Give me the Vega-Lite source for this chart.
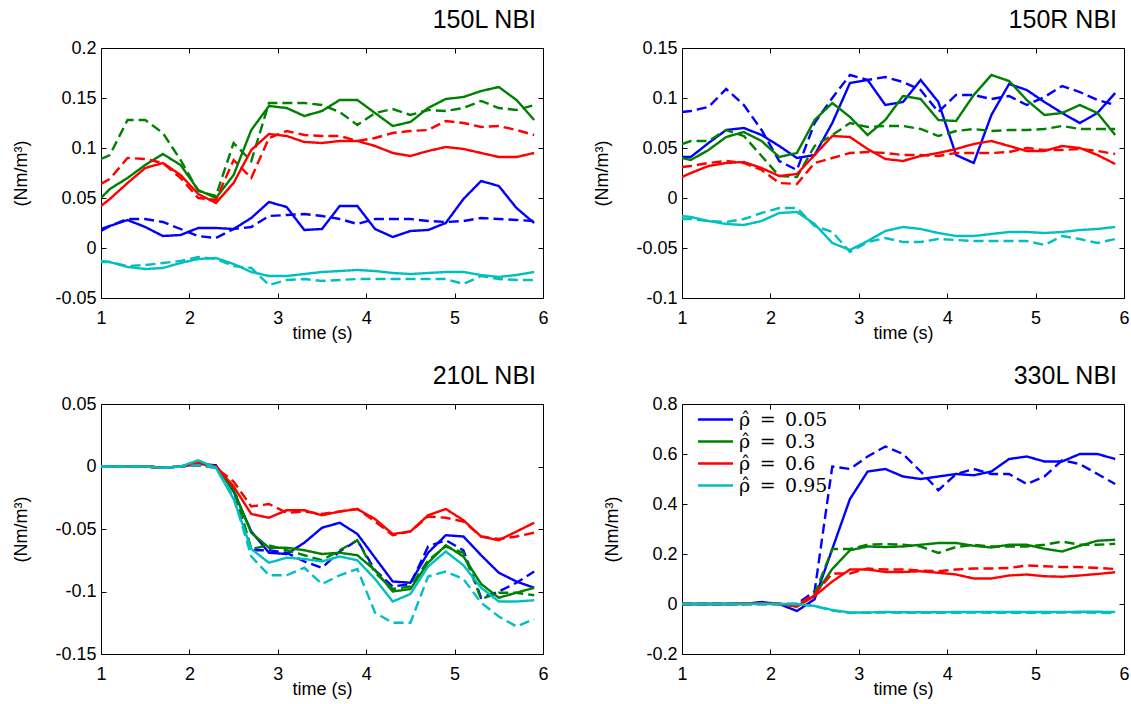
{
  "$schema": "https://vega.github.io/schema/vega-lite/v6.json",
  "background": "white",
  "padding": {"left": 12, "top": 7, "right": 0, "bottom": 0},
  "config": {
    "view": {"stroke": "black", "strokeWidth": 1},
    "font": "Liberation Sans",
    "axis": {"labelFont": "Liberation Sans", "labelFontSize": 18, "labelColor": "black", "titleFont": "Liberation Sans", "titleFontSize": 18, "titleFontWeight": "normal", "titleColor": "black", "domain": false, "grid": false, "tickColor": "black", "tickSize": -5, "labelPadding": 10, "labelFlush": false, "labelOverlap": false},
    "axisX": {"labelPadding": 16, "titlePadding": -3},
    "axisY": {"titlePadding": 24},
    "title": {"font": "Liberation Sans", "fontSize": 25, "fontWeight": "normal", "color": "black", "anchor": "end", "frame": "group", "offset": 6, "dx": -7}
  },
  "data": {"values": [
    {"p": "150L NBI", "r": "0.05", "k": "solid", "t": [1,1.1,1.3,1.5,1.7,1.9,2.1,2.3,2.5,2.7,2.9,3.1,3.3,3.5,3.7,3.9,4.1,4.3,4.5,4.7,4.9,5.1,5.3,5.5,5.7,5.9], "v": [0.017,0.022,0.028,0.021,0.012,0.013,0.020,0.020,0.019,0.030,0.046,0.041,0.018,0.019,0.042,0.042,0.019,0.011,0.017,0.018,0.025,0.049,0.067,0.062,0.040,0.025]},
    {"p": "150L NBI", "r": "0.05", "k": "dashed", "t": [1,1.1,1.3,1.5,1.7,1.9,2.1,2.3,2.5,2.7,2.9,3.1,3.3,3.5,3.7,3.9,4.1,4.3,4.5,4.7,4.9,5.1,5.3,5.5,5.7,5.9], "v": [0.019,0.022,0.029,0.029,0.026,0.019,0.012,0.010,0.019,0.021,0.032,0.033,0.034,0.032,0.029,0.024,0.029,0.029,0.029,0.027,0.026,0.027,0.030,0.029,0.028,0.027]},
    {"p": "150L NBI", "r": "0.3", "k": "solid", "t": [1,1.1,1.3,1.5,1.7,1.9,2.1,2.3,2.5,2.7,2.9,3.1,3.3,3.5,3.7,3.9,4.1,4.3,4.5,4.7,4.9,5.1,5.3,5.5,5.7,5.9], "v": [0.050,0.059,0.070,0.083,0.094,0.083,0.058,0.050,0.073,0.118,0.142,0.140,0.132,0.137,0.148,0.148,0.135,0.122,0.126,0.140,0.149,0.151,0.157,0.161,0.148,0.128]},
    {"p": "150L NBI", "r": "0.3", "k": "dashed", "t": [1,1.1,1.3,1.5,1.7,1.9,2.1,2.3,2.5,2.7,2.9,3.1,3.3,3.5,3.7,3.9,4.1,4.3,4.5,4.7,4.9,5.1,5.3,5.5,5.7,5.9], "v": [0.089,0.093,0.128,0.128,0.115,0.088,0.057,0.052,0.105,0.087,0.145,0.145,0.145,0.143,0.136,0.123,0.135,0.139,0.133,0.138,0.137,0.140,0.147,0.140,0.138,0.143]},
    {"p": "150L NBI", "r": "0.6", "k": "solid", "t": [1,1.1,1.3,1.5,1.7,1.9,2.1,2.3,2.5,2.7,2.9,3.1,3.3,3.5,3.7,3.9,4.1,4.3,4.5,4.7,4.9,5.1,5.3,5.5,5.7,5.9], "v": [0.042,0.049,0.065,0.080,0.085,0.073,0.054,0.045,0.065,0.098,0.114,0.112,0.106,0.105,0.107,0.107,0.102,0.095,0.092,0.097,0.101,0.099,0.095,0.091,0.091,0.095]},
    {"p": "150L NBI", "r": "0.6", "k": "dashed", "t": [1,1.1,1.3,1.5,1.7,1.9,2.1,2.3,2.5,2.7,2.9,3.1,3.3,3.5,3.7,3.9,4.1,4.3,4.5,4.7,4.9,5.1,5.3,5.5,5.7,5.9], "v": [0.064,0.069,0.090,0.089,0.085,0.070,0.050,0.048,0.088,0.070,0.110,0.117,0.113,0.112,0.112,0.107,0.110,0.115,0.117,0.118,0.127,0.125,0.121,0.122,0.118,0.113]},
    {"p": "150L NBI", "r": "0.95", "k": "solid", "t": [1,1.1,1.3,1.5,1.7,1.9,2.1,2.3,2.5,2.7,2.9,3.1,3.3,3.5,3.7,3.9,4.1,4.3,4.5,4.7,4.9,5.1,5.3,5.5,5.7,5.9], "v": [-0.013,-0.014,-0.019,-0.021,-0.020,-0.015,-0.011,-0.010,-0.016,-0.024,-0.028,-0.028,-0.026,-0.024,-0.023,-0.022,-0.023,-0.025,-0.026,-0.025,-0.024,-0.024,-0.027,-0.029,-0.027,-0.024]},
    {"p": "150L NBI", "r": "0.95", "k": "dashed", "t": [1,1.1,1.3,1.5,1.7,1.9,2.1,2.3,2.5,2.7,2.9,3.1,3.3,3.5,3.7,3.9,4.1,4.3,4.5,4.7,4.9,5.1,5.3,5.5,5.7,5.9], "v": [-0.014,-0.014,-0.018,-0.017,-0.015,-0.013,-0.009,-0.011,-0.018,-0.020,-0.037,-0.032,-0.031,-0.033,-0.032,-0.031,-0.031,-0.031,-0.031,-0.031,-0.031,-0.036,-0.028,-0.031,-0.032,-0.032]},

    {"p": "150R NBI", "r": "0.05", "k": "solid", "t": [1,1.1,1.3,1.5,1.7,1.9,2.1,2.3,2.5,2.7,2.9,3.1,3.3,3.5,3.7,3.9,4.1,4.3,4.5,4.7,4.9,5.1,5.3,5.5,5.7,5.9], "v": [0.041,0.041,0.055,0.068,0.070,0.063,0.052,0.040,0.043,0.075,0.115,0.118,0.093,0.096,0.118,0.096,0.043,0.035,0.083,0.114,0.108,0.096,0.085,0.075,0.085,0.105]},
    {"p": "150R NBI", "r": "0.05", "k": "dashed", "t": [1,1.1,1.3,1.5,1.7,1.9,2.1,2.3,2.5,2.7,2.9,3.1,3.3,3.5,3.7,3.9,4.1,4.3,4.5,4.7,4.9,5.1,5.3,5.5,5.7,5.9], "v": [0.086,0.087,0.091,0.109,0.093,0.068,0.037,0.028,0.075,0.100,0.123,0.118,0.121,0.116,0.108,0.086,0.103,0.103,0.099,0.102,0.093,0.101,0.112,0.106,0.098,0.093]},
    {"p": "150R NBI", "r": "0.3", "k": "solid", "t": [1,1.1,1.3,1.5,1.7,1.9,2.1,2.3,2.5,2.7,2.9,3.1,3.3,3.5,3.7,3.9,4.1,4.3,4.5,4.7,4.9,5.1,5.3,5.5,5.7,5.9], "v": [0.040,0.038,0.048,0.061,0.066,0.057,0.041,0.045,0.078,0.095,0.081,0.063,0.078,0.102,0.099,0.078,0.077,0.103,0.123,0.117,0.098,0.083,0.085,0.093,0.085,0.063]},
    {"p": "150R NBI", "r": "0.3", "k": "dashed", "t": [1,1.1,1.3,1.5,1.7,1.9,2.1,2.3,2.5,2.7,2.9,3.1,3.3,3.5,3.7,3.9,4.1,4.3,4.5,4.7,4.9,5.1,5.3,5.5,5.7,5.9], "v": [0.054,0.057,0.057,0.068,0.062,0.042,0.022,0.021,0.052,0.063,0.075,0.071,0.072,0.072,0.069,0.062,0.067,0.069,0.067,0.068,0.068,0.069,0.072,0.069,0.069,0.069]},
    {"p": "150R NBI", "r": "0.6", "k": "solid", "t": [1,1.1,1.3,1.5,1.7,1.9,2.1,2.3,2.5,2.7,2.9,3.1,3.3,3.5,3.7,3.9,4.1,4.3,4.5,4.7,4.9,5.1,5.3,5.5,5.7,5.9], "v": [0.021,0.025,0.032,0.035,0.036,0.030,0.022,0.024,0.043,0.062,0.061,0.049,0.039,0.037,0.042,0.045,0.049,0.054,0.057,0.052,0.047,0.047,0.052,0.050,0.043,0.034]},
    {"p": "150R NBI", "r": "0.6", "k": "dashed", "t": [1,1.1,1.3,1.5,1.7,1.9,2.1,2.3,2.5,2.7,2.9,3.1,3.3,3.5,3.7,3.9,4.1,4.3,4.5,4.7,4.9,5.1,5.3,5.5,5.7,5.9], "v": [0.031,0.032,0.035,0.037,0.035,0.028,0.015,0.014,0.035,0.040,0.045,0.046,0.045,0.043,0.043,0.042,0.045,0.045,0.045,0.046,0.050,0.048,0.048,0.049,0.047,0.044]},
    {"p": "150R NBI", "r": "0.95", "k": "solid", "t": [1,1.1,1.3,1.5,1.7,1.9,2.1,2.3,2.5,2.7,2.9,3.1,3.3,3.5,3.7,3.9,4.1,4.3,4.5,4.7,4.9,5.1,5.3,5.5,5.7,5.9], "v": [-0.018,-0.019,-0.023,-0.026,-0.027,-0.023,-0.015,-0.014,-0.026,-0.045,-0.052,-0.043,-0.033,-0.029,-0.031,-0.035,-0.038,-0.038,-0.036,-0.034,-0.034,-0.035,-0.034,-0.032,-0.031,-0.029]},
    {"p": "150R NBI", "r": "0.95", "k": "dashed", "t": [1,1.1,1.3,1.5,1.7,1.9,2.1,2.3,2.5,2.7,2.9,3.1,3.3,3.5,3.7,3.9,4.1,4.3,4.5,4.7,4.9,5.1,5.3,5.5,5.7,5.9], "v": [-0.021,-0.021,-0.023,-0.024,-0.021,-0.015,-0.010,-0.010,-0.028,-0.034,-0.054,-0.044,-0.040,-0.044,-0.044,-0.041,-0.042,-0.043,-0.043,-0.043,-0.043,-0.047,-0.038,-0.041,-0.045,-0.041]},

    {"p": "210L NBI", "r": "0.05", "k": "solid", "t": [1,1.1,1.3,1.5,1.7,1.9,2.1,2.3,2.5,2.7,2.9,3.1,3.3,3.5,3.7,3.9,4.1,4.3,4.5,4.7,4.9,5.1,5.3,5.5,5.7,5.9], "v": [0,0,0,0,-0.001,0,0.002,0.001,-0.020,-0.052,-0.069,-0.070,-0.061,-0.049,-0.045,-0.054,-0.073,-0.092,-0.093,-0.069,-0.055,-0.056,-0.071,-0.085,-0.092,-0.097]},
    {"p": "210L NBI", "r": "0.05", "k": "dashed", "t": [1,1.1,1.3,1.5,1.7,1.9,2.1,2.3,2.5,2.7,2.9,3.1,3.3,3.5,3.7,3.9,4.1,4.3,4.5,4.7,4.9,5.1,5.3,5.5,5.7,5.9], "v": [0,0,0,0,-0.001,0,0.001,0,-0.018,-0.067,-0.067,-0.069,-0.076,-0.081,-0.068,-0.059,-0.083,-0.096,-0.094,-0.064,-0.059,-0.067,-0.105,-0.100,-0.093,-0.084]},
    {"p": "210L NBI", "r": "0.3", "k": "solid", "t": [1,1.1,1.3,1.5,1.7,1.9,2.1,2.3,2.5,2.7,2.9,3.1,3.3,3.5,3.7,3.9,4.1,4.3,4.5,4.7,4.9,5.1,5.3,5.5,5.7,5.9], "v": [0,0,0,0,-0.001,0,0.003,0,-0.019,-0.053,-0.065,-0.065,-0.067,-0.070,-0.069,-0.071,-0.083,-0.100,-0.098,-0.077,-0.063,-0.072,-0.094,-0.105,-0.101,-0.097]},
    {"p": "210L NBI", "r": "0.3", "k": "dashed", "t": [1,1.1,1.3,1.5,1.7,1.9,2.1,2.3,2.5,2.7,2.9,3.1,3.3,3.5,3.7,3.9,4.1,4.3,4.5,4.7,4.9,5.1,5.3,5.5,5.7,5.9], "v": [0,0,0,0,-0.001,0,0.001,0,-0.016,-0.066,-0.063,-0.067,-0.071,-0.075,-0.067,-0.059,-0.085,-0.098,-0.096,-0.075,-0.064,-0.069,-0.106,-0.101,-0.101,-0.103]},
    {"p": "210L NBI", "r": "0.6", "k": "solid", "t": [1,1.1,1.3,1.5,1.7,1.9,2.1,2.3,2.5,2.7,2.9,3.1,3.3,3.5,3.7,3.9,4.1,4.3,4.5,4.7,4.9,5.1,5.3,5.5,5.7,5.9], "v": [0,0,0,0,-0.001,0,0.003,0,-0.016,-0.038,-0.041,-0.035,-0.035,-0.039,-0.036,-0.034,-0.042,-0.054,-0.052,-0.039,-0.034,-0.043,-0.056,-0.059,-0.052,-0.045]},
    {"p": "210L NBI", "r": "0.6", "k": "dashed", "t": [1,1.1,1.3,1.5,1.7,1.9,2.1,2.3,2.5,2.7,2.9,3.1,3.3,3.5,3.7,3.9,4.1,4.3,4.5,4.7,4.9,5.1,5.3,5.5,5.7,5.9], "v": [0,0,0,0,-0.001,0,0.001,-0.001,-0.012,-0.032,-0.030,-0.037,-0.036,-0.038,-0.036,-0.034,-0.044,-0.055,-0.052,-0.040,-0.041,-0.044,-0.056,-0.058,-0.056,-0.053]},
    {"p": "210L NBI", "r": "0.95", "k": "solid", "t": [1,1.1,1.3,1.5,1.7,1.9,2.1,2.3,2.5,2.7,2.9,3.1,3.3,3.5,3.7,3.9,4.1,4.3,4.5,4.7,4.9,5.1,5.3,5.5,5.7,5.9], "v": [0,0,0,0,-0.001,0,0.005,-0.001,-0.026,-0.066,-0.077,-0.073,-0.074,-0.076,-0.072,-0.075,-0.090,-0.108,-0.102,-0.080,-0.068,-0.079,-0.097,-0.108,-0.108,-0.107]},
    {"p": "210L NBI", "r": "0.95", "k": "dashed", "t": [1,1.1,1.3,1.5,1.7,1.9,2.1,2.3,2.5,2.7,2.9,3.1,3.3,3.5,3.7,3.9,4.1,4.3,4.5,4.7,4.9,5.1,5.3,5.5,5.7,5.9], "v": [0,0,0,0,-0.001,0,0.001,-0.001,-0.024,-0.072,-0.087,-0.087,-0.081,-0.094,-0.087,-0.082,-0.117,-0.125,-0.125,-0.088,-0.084,-0.090,-0.109,-0.120,-0.128,-0.122]},

    {"p": "330L NBI", "r": "0.05", "k": "solid", "t": [1,1.1,1.3,1.5,1.7,1.9,2.1,2.3,2.5,2.7,2.9,3.1,3.3,3.5,3.7,3.9,4.1,4.3,4.5,4.7,4.9,5.1,5.3,5.5,5.7,5.9], "v": [0,0,0,0,0,0.008,0,-0.028,0.019,0.22,0.42,0.53,0.54,0.51,0.50,0.51,0.52,0.515,0.53,0.58,0.59,0.57,0.57,0.60,0.60,0.58]},
    {"p": "330L NBI", "r": "0.05", "k": "dashed", "t": [1,1.1,1.3,1.5,1.7,1.9,2.1,2.3,2.5,2.7,2.9,3.1,3.3,3.5,3.7,3.9,4.1,4.3,4.5,4.7,4.9,5.1,5.3,5.5,5.7,5.9], "v": [0,0,0,0,0,0.003,0,0,0.05,0.55,0.54,0.59,0.63,0.60,0.53,0.455,0.52,0.54,0.52,0.52,0.48,0.51,0.575,0.56,0.52,0.48]},
    {"p": "330L NBI", "r": "0.3", "k": "solid", "t": [1,1.1,1.3,1.5,1.7,1.9,2.1,2.3,2.5,2.7,2.9,3.1,3.3,3.5,3.7,3.9,4.1,4.3,4.5,4.7,4.9,5.1,5.3,5.5,5.7,5.9], "v": [0,0,0,0,0.002,0.003,0,-0.01,0.035,0.14,0.215,0.23,0.228,0.23,0.237,0.244,0.244,0.233,0.226,0.237,0.237,0.221,0.21,0.233,0.253,0.257]},
    {"p": "330L NBI", "r": "0.3", "k": "dashed", "t": [1,1.1,1.3,1.5,1.7,1.9,2.1,2.3,2.5,2.7,2.9,3.1,3.3,3.5,3.7,3.9,4.1,4.3,4.5,4.7,4.9,5.1,5.3,5.5,5.7,5.9], "v": [0,0,0,0,0,0,0,-0.005,0.04,0.22,0.22,0.237,0.24,0.237,0.23,0.204,0.228,0.237,0.23,0.23,0.23,0.237,0.25,0.237,0.237,0.241]},
    {"p": "330L NBI", "r": "0.6", "k": "solid", "t": [1,1.1,1.3,1.5,1.7,1.9,2.1,2.3,2.5,2.7,2.9,3.1,3.3,3.5,3.7,3.9,4.1,4.3,4.5,4.7,4.9,5.1,5.3,5.5,5.7,5.9], "v": [0,0,0,0,0.002,0.003,0,-0.01,0.032,0.09,0.138,0.138,0.128,0.128,0.131,0.125,0.118,0.102,0.102,0.114,0.118,0.111,0.109,0.114,0.12,0.127]},
    {"p": "330L NBI", "r": "0.6", "k": "dashed", "t": [1,1.1,1.3,1.5,1.7,1.9,2.1,2.3,2.5,2.7,2.9,3.1,3.3,3.5,3.7,3.9,4.1,4.3,4.5,4.7,4.9,5.1,5.3,5.5,5.7,5.9], "v": [0,0,0,0,0,0,0,-0.005,0.04,0.122,0.122,0.142,0.138,0.138,0.134,0.131,0.138,0.142,0.142,0.144,0.154,0.151,0.148,0.148,0.144,0.14]},
    {"p": "330L NBI", "r": "0.95", "k": "solid", "t": [1,1.1,1.3,1.5,1.7,1.9,2.1,2.3,2.5,2.7,2.9,3.1,3.3,3.5,3.7,3.9,4.1,4.3,4.5,4.7,4.9,5.1,5.3,5.5,5.7,5.9], "v": [0,0,0,0,0,0,0,0,-0.008,-0.024,-0.034,-0.034,-0.032,-0.033,-0.033,-0.033,-0.032,-0.032,-0.032,-0.032,-0.032,-0.032,-0.032,-0.031,-0.031,-0.032]},
    {"p": "330L NBI", "r": "0.95", "k": "dashed", "t": [1,1.1,1.3,1.5,1.7,1.9,2.1,2.3,2.5,2.7,2.9,3.1,3.3,3.5,3.7,3.9,4.1,4.3,4.5,4.7,4.9,5.1,5.3,5.5,5.7,5.9], "v": [0,0,0,0,0,0,0,0,-0.008,-0.026,-0.036,-0.035,-0.034,-0.035,-0.035,-0.035,-0.035,-0.034,-0.035,-0.035,-0.035,-0.036,-0.034,-0.034,-0.035,-0.036]}
  ]},
  "columns": 2,
  "spacing": {"row": 20, "column": 44},
  "resolve": {"scale": {"color": "independent", "strokeDash": "independent"}},
  "concat": [
    {
      "width": 442, "height": 250,
      "title": {"text": "150L NBI"},
      "transform": [{"filter": "datum.p === '150L NBI'"}, {"flatten": ["t", "v"]}],
      "layer": [
        {
          "mark": {"type": "line", "strokeWidth": 2.4, "clip": true},
          "encoding": {
            "x": {"field": "t", "type": "quantitative", "scale": {"domain": [1, 6], "nice": false, "zero": false}, "axis": {"title": "time (s)", "values": [1, 2, 3, 4, 5, 6], "labelExpr": "'' + datum.value"}},
            "y": {"field": "v", "type": "quantitative", "scale": {"domain": [-0.05, 0.2], "nice": false, "zero": false}, "axis": {"title": "(Nm/m³)", "values": [-0.05, 0, 0.05, 0.1, 0.15, 0.2], "labelExpr": "'' + datum.value"}},
            "color": {"field": "r", "type": "nominal", "scale": {"domain": ["0.05", "0.3", "0.6", "0.95"], "range": ["#0000ff", "#008000", "#ff0000", "#00bfbf"]}, "legend": null},
            "strokeDash": {"field": "k", "type": "nominal", "scale": {"domain": ["solid", "dashed"], "range": [[1, 0], [10, 5]]}, "legend": null}
          }
        },
        {
          "mark": {"type": "point", "opacity": 0},
          "encoding": {
            "x": {"field": "t", "type": "quantitative", "axis": {"orient": "top", "labels": false, "title": null, "values": [2, 3, 4, 5]}},
            "y": {"field": "v", "type": "quantitative", "axis": {"orient": "right", "labels": false, "title": null, "values": [-0.05, 0, 0.05, 0.1, 0.15, 0.2]}}
          }
        }
      ],
      "resolve": {"axis": {"x": "independent", "y": "independent"}}
    },
    {
      "width": 442, "height": 250,
      "title": {"text": "150R NBI"},
      "transform": [{"filter": "datum.p === '150R NBI'"}, {"flatten": ["t", "v"]}],
      "layer": [
        {
          "mark": {"type": "line", "strokeWidth": 2.4, "clip": true},
          "encoding": {
            "x": {"field": "t", "type": "quantitative", "scale": {"domain": [1, 6], "nice": false, "zero": false}, "axis": {"title": "time (s)", "values": [1, 2, 3, 4, 5, 6], "labelExpr": "'' + datum.value"}},
            "y": {"field": "v", "type": "quantitative", "scale": {"domain": [-0.1, 0.15], "nice": false, "zero": false}, "axis": {"title": "(Nm/m³)", "values": [-0.1, -0.05, 0, 0.05, 0.1, 0.15], "labelExpr": "'' + datum.value"}},
            "color": {"field": "r", "type": "nominal", "scale": {"domain": ["0.05", "0.3", "0.6", "0.95"], "range": ["#0000ff", "#008000", "#ff0000", "#00bfbf"]}, "legend": null},
            "strokeDash": {"field": "k", "type": "nominal", "scale": {"domain": ["solid", "dashed"], "range": [[1, 0], [10, 5]]}, "legend": null}
          }
        },
        {
          "mark": {"type": "point", "opacity": 0},
          "encoding": {
            "x": {"field": "t", "type": "quantitative", "axis": {"orient": "top", "labels": false, "title": null, "values": [2, 3, 4, 5]}},
            "y": {"field": "v", "type": "quantitative", "axis": {"orient": "right", "labels": false, "title": null, "values": [-0.1, -0.05, 0, 0.05, 0.1, 0.15]}}
          }
        }
      ],
      "resolve": {"axis": {"x": "independent", "y": "independent"}}
    },
    {
      "width": 442, "height": 250,
      "title": {"text": "210L NBI"},
      "transform": [{"filter": "datum.p === '210L NBI'"}, {"flatten": ["t", "v"]}],
      "layer": [
        {
          "mark": {"type": "line", "strokeWidth": 2.4, "clip": true},
          "encoding": {
            "x": {"field": "t", "type": "quantitative", "scale": {"domain": [1, 6], "nice": false, "zero": false}, "axis": {"title": "time (s)", "values": [1, 2, 3, 4, 5, 6], "labelExpr": "'' + datum.value"}},
            "y": {"field": "v", "type": "quantitative", "scale": {"domain": [-0.15, 0.05], "nice": false, "zero": false}, "axis": {"title": "(Nm/m³)", "values": [-0.15, -0.1, -0.05, 0, 0.05], "labelExpr": "'' + datum.value"}},
            "color": {"field": "r", "type": "nominal", "scale": {"domain": ["0.05", "0.3", "0.6", "0.95"], "range": ["#0000ff", "#008000", "#ff0000", "#00bfbf"]}, "legend": null},
            "strokeDash": {"field": "k", "type": "nominal", "scale": {"domain": ["solid", "dashed"], "range": [[1, 0], [10, 5]]}, "legend": null}
          }
        },
        {
          "mark": {"type": "point", "opacity": 0},
          "encoding": {
            "x": {"field": "t", "type": "quantitative", "axis": {"orient": "top", "labels": false, "title": null, "values": [2, 3, 4, 5]}},
            "y": {"field": "v", "type": "quantitative", "axis": {"orient": "right", "labels": false, "title": null, "values": [-0.15, -0.1, -0.05, 0, 0.05]}}
          }
        }
      ],
      "resolve": {"axis": {"x": "independent", "y": "independent"}}
    },
    {
      "width": 442, "height": 250,
      "title": {"text": "330L NBI"},
      "transform": [{"filter": "datum.p === '330L NBI'"}, {"flatten": ["t", "v"]}],
      "layer": [
        {
          "mark": {"type": "line", "strokeWidth": 2.4, "clip": true},
          "encoding": {
            "x": {"field": "t", "type": "quantitative", "scale": {"domain": [1, 6], "nice": false, "zero": false}, "axis": {"title": "time (s)", "values": [1, 2, 3, 4, 5, 6], "labelExpr": "'' + datum.value"}},
            "y": {"field": "v", "type": "quantitative", "scale": {"domain": [-0.2, 0.8], "nice": false, "zero": false}, "axis": {"title": "(Nm/m³)", "values": [-0.2, 0, 0.2, 0.4, 0.6, 0.8], "labelExpr": "'' + datum.value"}},
            "color": {"field": "r", "type": "nominal", "scale": {"domain": ["0.05", "0.3", "0.6", "0.95"], "range": ["#0000ff", "#008000", "#ff0000", "#00bfbf"]}, "legend": {"orient": "none", "legendX": 22, "legendY": 4, "title": null, "symbolType": "M-1.75,0H1.75", "symbolSize": 400, "symbolStrokeWidth": 2.5, "labelFont": "DejaVu Serif", "labelFontSize": 19, "labelColor": "black", "labelExpr": "'\u03c1\u0302\u2002=\u2002' + datum.label", "padding": 0, "rowPadding": -1, "labelOffset": 12, "labelLimit": 300}},
            "strokeDash": {"field": "k", "type": "nominal", "scale": {"domain": ["solid", "dashed"], "range": [[1, 0], [10, 5]]}, "legend": null}
          }
        },
        {
          "mark": {"type": "point", "opacity": 0},
          "encoding": {
            "x": {"field": "t", "type": "quantitative", "axis": {"orient": "top", "labels": false, "title": null, "values": [2, 3, 4, 5]}},
            "y": {"field": "v", "type": "quantitative", "axis": {"orient": "right", "labels": false, "title": null, "values": [-0.2, 0, 0.2, 0.4, 0.6, 0.8]}}
          }
        }
      ],
      "resolve": {"axis": {"x": "independent", "y": "independent"}}
    }
  ]
}
